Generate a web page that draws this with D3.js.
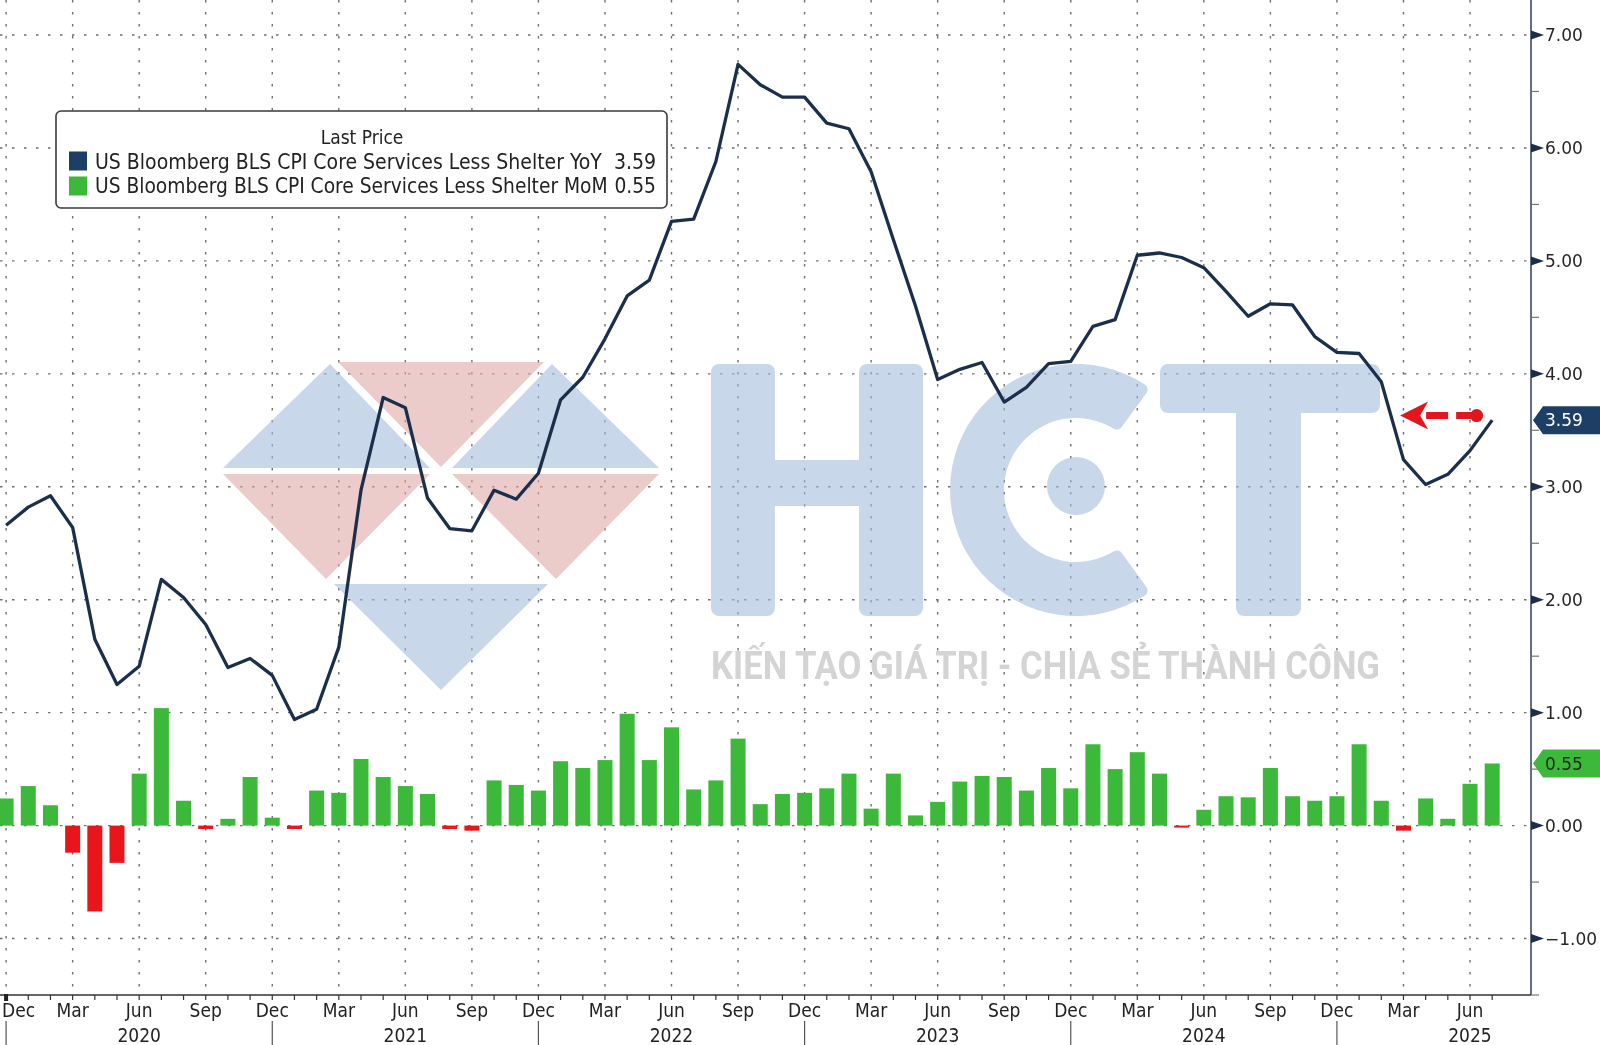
<!DOCTYPE html>
<html><head><meta charset="utf-8">
<script src="https://cdn.jsdelivr.net/npm/d3@7"></script>
<style>body{margin:0;background:#fff;overflow:hidden} svg{display:block}</style>
</head><body><svg id="chart" width="1600" height="1045"></svg>
<script>
// ---------------- DATA ----------------
const firstMonth = "2019-12";
const lastMonth = "2025-07";
// YoY (line), Dec 2019 .. Jul 2025
const yoyValues = [2.66,
 2.82,2.92,2.64,1.65,1.25,1.41,2.18,2.02,1.78,1.40,1.48,1.33,
 0.94,1.03,1.58,2.97,3.79,3.70,2.90,2.63,2.61,2.97,2.89,3.12,
 3.77,3.97,4.31,4.69,4.83,5.35,5.37,5.88,6.74,6.56,6.45,6.45,
 6.22,6.17,5.79,5.19,4.60,3.95,4.04,4.10,3.75,3.88,4.09,4.11,
 4.42,4.48,5.05,5.07,5.03,4.94,4.73,4.51,4.62,4.61,4.33,4.19,
 4.18,3.93,3.24,3.02,3.11,3.32,3.59];
// MoM (bars), Dec 2019 .. Jul 2025
const momValues = [0.24,
 0.35,0.18,-0.24,-0.76,-0.33,0.46,1.04,0.22,-0.03,0.06,0.43,0.07,
 -0.03,0.31,0.29,0.59,0.43,0.35,0.28,-0.03,-0.045,0.40,0.36,0.31,
 0.57,0.51,0.58,0.99,0.58,0.87,0.32,0.40,0.77,0.19,0.28,0.29,
 0.33,0.46,0.15,0.46,0.09,0.21,0.39,0.44,0.43,0.31,0.51,0.33,
 0.72,0.50,0.65,0.46,-0.01,0.14,0.26,0.25,0.51,0.26,0.22,0.26,
 0.72,0.22,-0.045,0.24,0.06,0.37,0.55];
const yTickValues = [-1,0,1,2,3,4,5,6,7];
const yMinorTickValues = [-1.5,-0.5,0.5,1.5,2.5,3.5,4.5,5.5,6.5];
const quarterMonths = ["Dec","Mar","Jun","Sep"];
const yearLabels = ["2020","2021","2022","2023","2024","2025"];
const legendTitle = "Last Price";
const seriesNames = ["US Bloomberg BLS CPI Core Services Less Shelter YoY",
                     "US Bloomberg BLS CPI Core Services Less Shelter MoM"];
const lastValueLabels = ["3.59","0.55"];
const annotationArrow = {fromIndex: 66.3, toIndex: 62.85, value: 3.63};
const watermarkWord = "KIẾN TẠO GIÁ TRỊ - CHIA SẺ THÀNH CÔNG";

// ---------------- SETUP ----------------
const W = 1600, H = 1045;
const plot = {left: 0, right: 1531, top: 0, bottom: 995};
const navy = "#1c2f4a", tagNavy = "#1d3f66", green = "#3cb93a", red = "#e8161b";
const condensed = "'DejaVu Sans Condensed','Liberation Sans Narrow','DejaVu Sans',sans-serif";
const parse = d3.timeParse("%Y-%m");
const months = d3.timeMonth.range(parse(firstMonth), d3.timeMonth.offset(parse(lastMonth), 1));
const fmtMonth = d3.timeFormat("%b");

const x = d3.scaleLinear().domain([-0.275, 68.75]).range([plot.left, plot.right]);
const y = d3.scaleLinear().domain([-1.5, 7.31]).range([plot.bottom, plot.top]);

const svg = d3.select("#chart");
svg.append("rect").attr("width", W).attr("height", H).attr("fill", "#fff");
svg.append("defs").append("clipPath").attr("id", "clip")
  .append("rect").attr("x", plot.left).attr("y", plot.top)
  .attr("width", plot.right - plot.left).attr("height", plot.bottom - plot.top);

// gridlines
const quarterIdx = months.map((m, i) => i).filter(i => quarterMonths.includes(fmtMonth(months[i])));
const grid = svg.append("g").attr("stroke", "#6f6f6f").attr("stroke-width", 1.4).attr("stroke-dasharray", "2.5,9.5");
grid.selectAll("line.h").data(yTickValues).join("line").attr("class", "h")
  .attr("x1", plot.left).attr("x2", plot.right).attr("y1", d => y(d)).attr("y2", d => y(d));
grid.selectAll("line.v").data(quarterIdx).join("line").attr("class", "v")
  .attr("x1", d => x(d)).attr("x2", d => x(d)).attr("y1", plot.top).attr("y2", plot.bottom);

// watermark
const wm = svg.append("g").attr("opacity", 0.6);
const tri = (pts, c) => wm.append("path").attr("d", "M" + pts.map(p => p.join(",")).join("L") + "Z").attr("fill", c);
const wBlue = "#a3bcdc", wPink = "#dfa8a8";
tri([[330,364],[223,468],[430,468]], wBlue);
tri([[338,362],[544,362],[441,467]], wPink);
tri([[552,364],[452,468],[659,468]], wBlue);
tri([[223,474],[430,474],[326,579]], wPink);
tri([[452,474],[659,474],[556,579]], wPink);
tri([[334,584],[548,584],[441,690]], wBlue);
// H
wm.append("rect").attr("x", 711).attr("y", 364).attr("width", 64).attr("height", 252).attr("rx", 8).attr("fill", wBlue);
wm.append("rect").attr("x", 859).attr("y", 364).attr("width", 64).attr("height", 252).attr("rx", 8).attr("fill", wBlue);
wm.append("rect").attr("x", 770).attr("y", 460).attr("width", 94).attr("height", 46).attr("fill", wBlue);
// C
wm.append("path").attr("transform", "translate(1076,490)")
  .attr("d", d3.arc().innerRadius(72).outerRadius(126).startAngle(Math.PI * 0.8).endAngle(Math.PI * 2.2).cornerRadius(6)())
  .attr("fill", wBlue);
wm.append("circle").attr("cx", 1076).attr("cy", 486).attr("r", 29).attr("fill", wBlue);
// T
wm.append("rect").attr("x", 1160).attr("y", 364).attr("width", 220).attr("height", 49).attr("rx", 8).attr("fill", wBlue);
wm.append("rect").attr("x", 1236).attr("y", 364).attr("width", 65).attr("height", 252).attr("rx", 8).attr("fill", wBlue);
svg.append("text").attr("x", 711).attr("y", 679).text(watermarkWord)
  .attr("font-family", "Roboto, 'DejaVu Sans', sans-serif").attr("font-weight", 700).attr("font-size", 38)
  .attr("textLength", 669).attr("lengthAdjust", "spacingAndGlyphs").attr("fill", "#d4d4d4");

// bars
const body = svg.append("g").attr("clip-path", "url(#clip)");
body.selectAll("rect.bar").data(momValues).join("rect").attr("class", "bar")
  .attr("x", (d, i) => x(i) - 7.5).attr("width", 15)
  .attr("y", d => y(Math.max(0, d)))
  .attr("height", d => Math.max(2, Math.abs(y(d) - y(0))))
  .attr("fill", d => d >= 0 ? green : red);

// line
body.append("path").datum(yoyValues)
  .attr("d", d3.line().x((d, i) => x(i)).y(d => y(d)))
  .attr("fill", "none").attr("stroke", navy).attr("stroke-width", 3.3)
  .attr("stroke-linejoin", "round");

// annotation arrow
const ay = y(annotationArrow.value), ax0 = x(annotationArrow.fromIndex), ax1 = x(annotationArrow.toIndex);
const ann = svg.append("g").attr("fill", "#e0181e").attr("stroke", "#e0181e");
ann.append("line").attr("x1", ax1 + 26).attr("x2", ax0).attr("y1", ay).attr("y2", ay)
  .attr("stroke-width", 7).attr("stroke-dasharray", "22,8");
ann.append("path").attr("stroke", "none")
  .attr("d", `M${ax1},${ay}L${ax1 + 28},${ay - 14}L${ax1 + 20},${ay}L${ax1 + 28},${ay + 14}Z`);
ann.append("circle").attr("cx", ax0).attr("cy", ay).attr("r", 6.5).attr("stroke", "none");

// right axis
const ra = svg.append("g");
ra.append("line").attr("x1", plot.right).attr("x2", plot.right).attr("y1", 0).attr("y2", plot.bottom)
  .attr("stroke", "#3c4b5c").attr("stroke-width", 1.6);
ra.selectAll("line.minor").data(yMinorTickValues).join("line").attr("class", "minor")
  .attr("x1", plot.right).attr("x2", plot.right + 8).attr("y1", d => y(d)).attr("y2", d => y(d))
  .attr("stroke", "#777").attr("stroke-width", 1.2);
ra.selectAll("path.tri").data(yTickValues).join("path").attr("class", "tri")
  .attr("d", d => `M${plot.right},${y(d) - 4.5}L${plot.right + 13},${y(d)}L${plot.right},${y(d) + 4.5}Z`)
  .attr("fill", navy);
ra.selectAll("text").data(yTickValues).join("text")
  .attr("x", plot.right + 14).attr("y", d => y(d)).attr("dy", "0.36em")
  .text(d => d3.format(".2f")(d).replace("-", "-"))
  .attr("font-family", "'DejaVu Sans', sans-serif").attr("font-size", 17).attr("fill", "#262626");

// last value tags
const tags = [{v: yoyValues[yoyValues.length - 1], label: lastValueLabels[0], fill: tagNavy, color: "#fff"},
              {v: momValues[momValues.length - 1], label: lastValueLabels[1], fill: green, color: "#1a2a1a"}];
tags.forEach(t => {
  const yc = y(t.v);
  svg.append("path").attr("d", `M${plot.right + 2},${yc}L${plot.right + 12},${yc - 14}L${W},${yc - 14}L${W},${yc + 14}L${plot.right + 12},${yc + 14}Z`)
    .attr("fill", t.fill);
  svg.append("text").attr("x", plot.right + 14).attr("y", yc).attr("dy", "0.36em").text(t.label)
    .attr("font-family", "'DejaVu Sans', sans-serif").attr("font-size", 17).attr("fill", t.color);
});

// bottom axis
const ba = svg.append("g");
ba.append("line").attr("x1", plot.left).attr("x2", plot.right).attr("y1", plot.bottom).attr("y2", plot.bottom)
  .attr("stroke", "#333").attr("stroke-width", 1.6);
ba.selectAll("line.mt").data(months).join("line").attr("class", "mt")
  .attr("x1", (d, i) => x(i)).attr("x2", (d, i) => x(i)).attr("y1", plot.bottom).attr("y2", plot.bottom + 5)
  .attr("stroke", "#333").attr("stroke-width", 1.2);
ba.append("rect").attr("x", x(0) - 2).attr("y", plot.bottom - 1).attr("width", 4).attr("height", 7).attr("fill", "#222");
ba.selectAll("text.q").data(quarterIdx).join("text").attr("class", "q")
  .attr("x", d => x(d)).attr("y", 1010).attr("dy", "0.36em")
  .attr("text-anchor", "middle").text(d => fmtMonth(months[d]))
  .attr("font-family", condensed).attr("font-size", 19).attr("fill", "#222")
  .each(function() {
    const bb = this.getBBox();
    if (bb.x < 2) d3.select(this).attr("text-anchor", "start").attr("x", 2);
  });
const junIdx = quarterIdx.filter(i => fmtMonth(months[i]) === "Jun");
ba.selectAll("text.yr").data(junIdx).join("text").attr("class", "yr")
  .attr("x", d => x(d)).attr("y", 1035).attr("dy", "0.36em").attr("text-anchor", "middle")
  .text((d, k) => yearLabels[k])
  .attr("font-family", condensed).attr("font-size", 19).attr("fill", "#222");
const decIdx = quarterIdx.filter(i => fmtMonth(months[i]) === "Dec");
ba.selectAll("line.sep").data(decIdx).join("line").attr("class", "sep")
  .attr("x1", d => x(d)).attr("x2", d => x(d)).attr("y1", 1021).attr("y2", H)
  .attr("stroke", "#555").attr("stroke-width", 1.2);

// legend
const lg = svg.append("g");
lg.append("rect").attr("x", 56).attr("y", 111).attr("width", 611).attr("height", 97).attr("rx", 5)
  .attr("fill", "#fff").attr("stroke", "#3a3a3a").attr("stroke-width", 1.6);
lg.append("text").attr("x", 362).attr("y", 137).attr("dy", "0.36em").attr("text-anchor", "middle")
  .text(legendTitle).attr("font-family", condensed).attr("font-size", 19).attr("fill", "#222");
const rows = [{name: seriesNames[0], val: lastValueLabels[0], c: tagNavy, yc: 161, w: 507},
              {name: seriesNames[1], val: lastValueLabels[1], c: green, yc: 186, w: 513}];
rows.forEach(r => {
  lg.append("rect").attr("x", 69).attr("y", r.yc - 9.5).attr("width", 18).attr("height", 19).attr("fill", r.c);
  const t = lg.append("text").attr("x", 95).attr("y", r.yc).attr("dy", "0.36em").text(r.name)
    .attr("font-family", condensed).attr("font-size", 19).attr("fill", "#222");
  const len = t.node().getComputedTextLength();
  t.attr("font-size", 19 * r.w / len);
  lg.append("text").attr("x", 656).attr("y", r.yc).attr("dy", "0.36em").attr("text-anchor", "end").text(r.val)
    .attr("font-family", condensed).attr("font-size", 19 * r.w / len).attr("fill", "#222");
});
</script></body></html>
